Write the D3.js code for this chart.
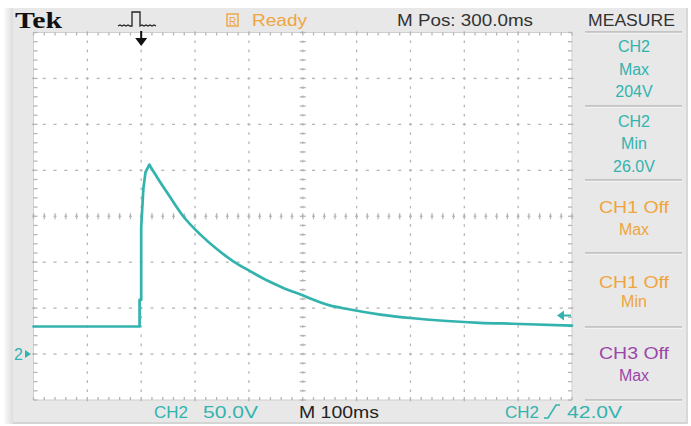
<!DOCTYPE html>
<html>
<head>
<meta charset="utf-8">
<script src="https://cdn.jsdelivr.net/npm/d3@7"></script>
<style>
  body { margin: 0; background: #fff; }
</style>
</head>
<body>
<svg id="scope" width="691" height="426"></svg>
<script>
// CH2 trace: time in ms from trigger, volts
const timeMs = [-200, -3, -3, 0, 0, 4, 8, 15, 30, 49, 78, 110, 141, 171, 203, 234, 264, 295, 350, 383, 444, 505, 568, 629, 690, 800];
const ch2Volts = [30, 30, 59, 59, 138, 180, 198, 206, 192, 175, 150, 130, 114, 101, 90, 80, 72, 65, 53, 49, 43, 39, 36, 34, 33, 31];

const timeDomain = [-200, 800];   // 10 div x 100ms
const voltDomain = [-50, 350];    // 8 div x 50V, ground one div above bottom
const triggerLevel = 42;

const measureBoxes = [
    { lines: ["CH2", "Max", "204V"], color: "#33b3ae" },
    { lines: ["CH2", "Min", "26.0V"], color: "#33b3ae" },
    { lines: ["CH1 Off", "Max"], color: "#efa53f" },
    { lines: ["CH1 Off", "Min"], color: "#efa53f" },
    { lines: ["CH3 Off", "Max"], color: "#9b47a8" }
];

const teal = "#33b3ae";
const sans = "'Liberation Sans', Arial, sans-serif";
const svg = d3.select("#scope");

// frame + shadow
const defs = svg.append("defs");
const sh = defs.append("linearGradient").attr("id", "shadowL");
sh.append("stop").attr("offset", "0").attr("stop-color", "#fff");
sh.append("stop").attr("offset", "1").attr("stop-color", "#d9d9d9");
svg.append("rect").attr("x", 3).attr("y", 8).attr("width", 11).attr("height", 416).attr("fill", "url(#shadowL)");
svg.append("rect").attr("x", 13).attr("y", 8).attr("width", 675).attr("height", 416).attr("fill", "#e8e8e8");
svg.append("rect").attr("x", 13).attr("y", 422).attr("width", 675).attr("height", 2).attr("fill", "#d4d4d4");
svg.append("rect").attr("x", 686).attr("y", 8).attr("width", 2).attr("height", 416).attr("fill", "#d8d8d8");

const x = d3.scaleLinear().domain(timeDomain).range([33.5, 572]);
const y = d3.scaleLinear().domain(voltDomain).range([400, 32.5]);

const plot = svg.append("g");
plot.append("rect")
    .attr("x", x(timeDomain[0])).attr("y", y(voltDomain[1]))
    .attr("width", x(timeDomain[1]) - x(timeDomain[0]))
    .attr("height", y(voltDomain[0]) - y(voltDomain[1]))
    .attr("fill", "#fff")
    .attr("stroke", "#cfcfcf").attr("stroke-width", 1);

const majorT = d3.range(-200, 801, 100), minorT = d3.range(-200, 801, 20);
const majorV = d3.range(-50, 351, 50), minorV = d3.range(-50, 351, 10);
const grid = plot.append("g").attr("stroke", "#b5b5b5").attr("stroke-width", 1.3);

// dotted horizontal graticule
majorV.slice(1, -1).forEach(v => {
    minorT.forEach(t => {
        grid.append("line").attr("x1", x(t) - 1.5).attr("x2", x(t) + 1.5).attr("y1", y(v)).attr("y2", y(v));
    });
});
// dotted vertical graticule
majorT.slice(1, -1).forEach(t => {
    minorV.forEach(v => {
        grid.append("line").attr("x1", x(t)).attr("x2", x(t)).attr("y1", y(v) - 1.3).attr("y2", y(v) + 1.3);
    });
});
// centre cross ticks
minorT.forEach(t => {
    grid.append("line").attr("x1", x(t)).attr("x2", x(t)).attr("y1", y(150) - 3).attr("y2", y(150) + 3);
});
minorV.forEach(v => {
    grid.append("line").attr("x1", x(300) - 3).attr("x2", x(300) + 3).attr("y1", y(v)).attr("y2", y(v));
});
// edge ticks
minorT.forEach(t => {
    grid.append("line").attr("x1", x(t)).attr("x2", x(t)).attr("y1", y(350)).attr("y2", y(350) + 3);
    grid.append("line").attr("x1", x(t)).attr("x2", x(t)).attr("y1", y(-50)).attr("y2", y(-50) - 3);
});
minorV.forEach(v => {
    grid.append("line").attr("x1", x(-200)).attr("x2", x(-200) + 4).attr("y1", y(v)).attr("y2", y(v));
    grid.append("line").attr("x1", x(800)).attr("x2", x(800) - 4).attr("y1", y(v)).attr("y2", y(v));
});

// trace: straight steps up to the peak, smooth decay after it
const trace = d3.zip(timeMs, ch2Volts);
const peakIdx = d3.maxIndex(ch2Volts);
const traceG = plot.append("g")
    .attr("fill", "none")
    .attr("stroke", teal)
    .attr("stroke-width", 2.7)
    .attr("stroke-linejoin", "round")
    .attr("stroke-linecap", "round");
traceG.append("path")
    .datum(trace.slice(0, peakIdx + 1))
    .attr("d", d3.line().x(d => x(d[0])).y(d => y(d[1])));
traceG.append("path")
    .datum(trace.slice(peakIdx))
    .attr("d", d3.line().curve(d3.curveMonotoneX).x(d => x(d[0])).y(d => y(d[1])));

// trigger level arrow (right)
const ty = y(triggerLevel);
plot.append("path")
    .attr("d", `M557,${ty} L564,${ty - 5} L564,${ty + 5} Z`)
    .attr("fill", teal);
plot.append("line").attr("x1", 560).attr("x2", 571).attr("y1", ty).attr("y2", ty)
    .attr("stroke", teal).attr("stroke-width", 2);

// ground marker (left)
const gy = y(0);
svg.append("text").attr("x", 14).attr("y", gy + 6).attr("fill", teal)
    .style("font-family", sans).attr("font-size", 16).text("2");
svg.append("path").attr("d", `M25,${gy - 4} L31,${gy} L25,${gy + 4} Z`).attr("fill", teal);

// trigger position arrow (top)
const tx = x(0);
svg.append("line").attr("x1", tx).attr("x2", tx).attr("y1", 31).attr("y2", 40)
    .attr("stroke", "#111").attr("stroke-width", 2);
svg.append("path").attr("d", `M${tx - 6},38 L${tx + 6},38 L${tx},46 Z`).attr("fill", "#111");

function label(txt, px, py, size, color, width, anchor) {
    const t = svg.append("text")
        .attr("x", px).attr("y", py)
        .style("font-family", sans)
        .attr("font-size", size)
        .attr("fill", color)
        .attr("text-anchor", anchor || "start")
        .text(txt);
    if (width) t.attr("textLength", width).attr("lengthAdjust", "spacingAndGlyphs");
    return t;
}

// top bar
label("Tek", 15, 28, 24, "#111", 47)
    .style("font-family", "'Liberation Serif', 'DejaVu Serif', serif")
    .attr("font-weight", "bold");
svg.append("path")
    .attr("d", "M118,26 l2,-1 l2,1 l2,-1 l2,1 l2,-1 l2,1 L132,26 L132,12 L140,12 L140,26 l2,-1 l2,1 l2,-1 l2,1 l2,-1 l2,1 l2,-1 l2,1")
    .attr("fill", "none").attr("stroke", "#222").attr("stroke-width", 1.3);
svg.append("rect").attr("x", 227).attr("y", 14).attr("width", 11).attr("height", 12)
    .attr("fill", "none").attr("stroke", "#efa53f").attr("stroke-width", 1.4);
label("R", 232.5, 24.5, 10, "#efa53f", null, "middle");
label("Ready", 252, 26, 17, "#efa53f", 55);
label("M Pos: 300.0ms", 397, 26, 17, "#333", 136);
label("MEASURE", 588, 26, 16, "#333", 87);

// measure panel
const boxTops = [32, 106, 180, 253, 327, 400];
const sep = svg.append("g");
boxTops.forEach(by => {
    sep.append("line").attr("x1", 585).attr("x2", 682).attr("y1", by).attr("y2", by)
        .attr("stroke", "#b9b9b9").attr("stroke-width", 1.3);
    sep.append("line").attr("x1", 585).attr("x2", 682).attr("y1", by + 1.3).attr("y2", by + 1.3)
        .attr("stroke", "#f6f6f6").attr("stroke-width", 1);
});
const baselines = [[52, 75, 97], [127, 149, 172], [213, 235], [288, 307], [359, 381]];
measureBoxes.forEach((b, i) => {
    b.lines.forEach((ln, j) => {
        const w = ln.length >= 7 ? 70 : null;
        label(ln, 634, baselines[i][j], 16, b.color, w, "middle");
    });
});

// bottom bar
label("CH2", 154, 418, 16, teal, 34);
label("50.0V", 203, 418, 16, teal, 55);
label("M 100ms", 299, 418, 16, "#222", 80);
label("CH2", 505, 418, 16, teal, 34);
svg.append("path").attr("d", "M544,418 L548,418 L556,405 L560,405")
    .attr("fill", "none").attr("stroke", teal).attr("stroke-width", 1.6);
label("42.0V", 567, 418, 16, teal, 55);
</script>
</body>
</html>
